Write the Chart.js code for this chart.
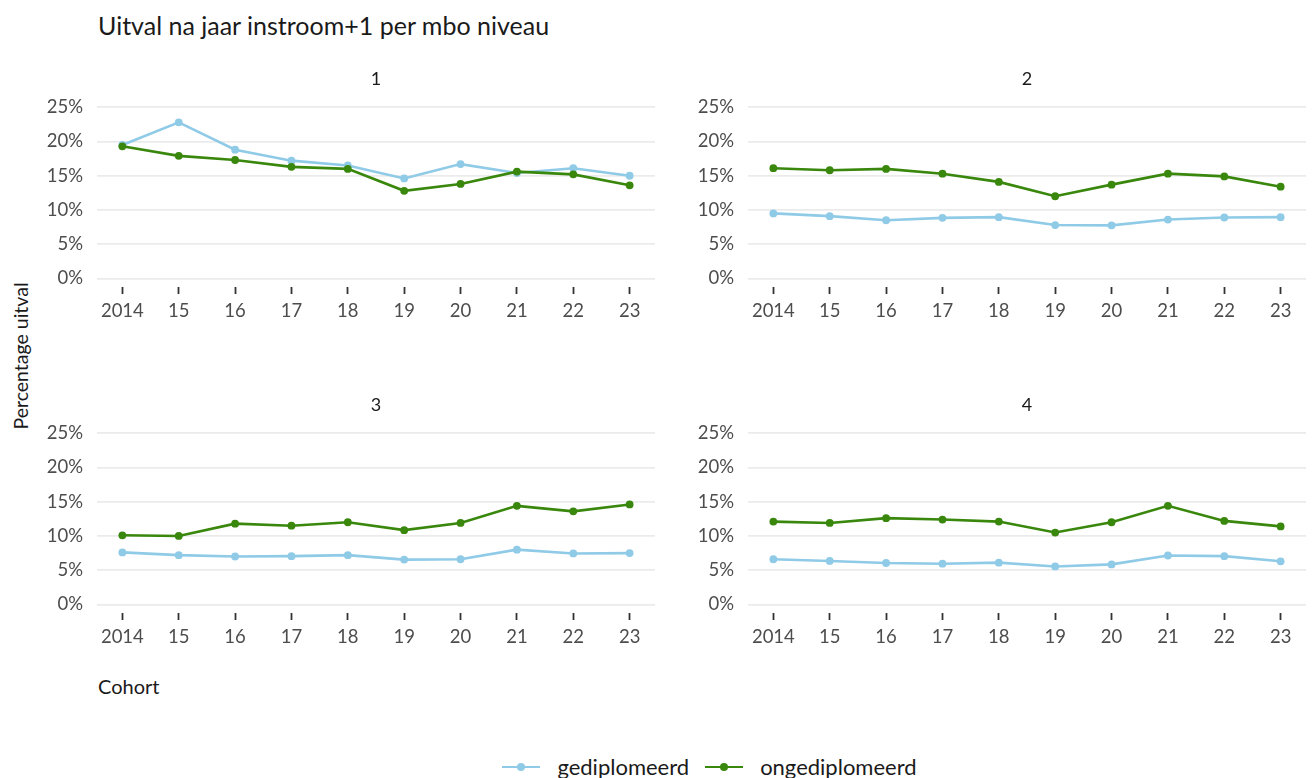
<!DOCTYPE html>
<html>
<head>
<meta charset="utf-8">
<script src="https://cdn.jsdelivr.net/npm/chart.js@4"></script>
<style>
  body { margin: 0; background: #fff; font-family: Lato, sans-serif; }
  #wrap { position: relative; width: 1315px; height: 778px; overflow: hidden; }
  canvas { position: absolute; }
  .txt { position: absolute; color: #1a1a1a; white-space: nowrap; }
  #title { left: 98px; top: 10px; font-size: 25px; line-height: 30px; }
  #ytitle { left: 20px; top: 356px; font-size: 19.5px; line-height: 23px;
            transform: translate(-50%, -50%) rotate(-90deg); }
  #xtitle { left: 98px; top: 674px; font-size: 20px; line-height: 24px; }
  #legend { position: absolute; left: 52px; width: 1315px; top: 753px; display: flex;
            justify-content: center; align-items: center; font-size: 22px; color: #1a1a1a; }
  .item { display: flex; align-items: center; margin: 0 8px; }
  .sym { position: relative; width: 38px; height: 24px; margin-right: 17px; }
  .sym .ln { position: absolute; left: 0; right: 0; top: 11px; height: 2.5px; }
  .sym .pt { position: absolute; left: 15px; top: 8px; width: 8px; height: 8px; border-radius: 50%; }
</style>
</head>
<body>
<div id="wrap">
  <div id="title" class="txt">Uitval na jaar instroom+1 per mbo niveau</div>
  <div id="ytitle" class="txt">Percentage uitval</div>
  <div id="xtitle" class="txt">Cohort</div>
  <canvas id="p1" width="625" height="268" style="left:40px;top:62px"></canvas>
  <canvas id="p2" width="625" height="268" style="left:691px;top:62px"></canvas>
  <canvas id="p3" width="625" height="268" style="left:40px;top:388px"></canvas>
  <canvas id="p4" width="625" height="268" style="left:691px;top:388px"></canvas>
  <div id="legend"></div>
</div>
<script>
// Data
const years = [2014, 2015, 2016, 2017, 2018, 2019, 2020, 2021, 2022, 2023];
const xLabels = ['2014', '15', '16', '17', '18', '19', '20', '21', '22', '23'];
const yTicks = [0, 5, 10, 15, 20, 25];
const yLabels = ['0%', '5%', '10%', '15%', '20%', '25%'];
const levels = ['1', '2', '3', '4'];
const seriesNames = ['gediplomeerd', 'ongediplomeerd'];
const seriesColors = ['#8fcae7', '#39870c'];

const gediplomeerd1 = [19.5, 22.8, 18.8, 17.2, 16.5, 14.6, 16.7, 15.4, 16.1, 15.0];
const ongediplomeerd1 = [19.3, 17.9, 17.3, 16.3, 16.0, 12.8, 13.8, 15.6, 15.2, 13.6];
const gediplomeerd2 = [9.5, 9.1, 8.5, 8.85, 8.95, 7.8, 7.75, 8.6, 8.9, 8.95];
const ongediplomeerd2 = [16.1, 15.8, 16.0, 15.3, 14.1, 12.0, 13.7, 15.3, 14.9, 13.4];
const gediplomeerd3 = [7.6, 7.2, 7.0, 7.05, 7.2, 6.55, 6.6, 8.0, 7.45, 7.5];
const ongediplomeerd3 = [10.1, 10.0, 11.8, 11.5, 12.0, 10.85, 11.9, 14.4, 13.6, 14.6];
const gediplomeerd4 = [6.6, 6.35, 6.05, 5.95, 6.1, 5.55, 5.85, 7.15, 7.05, 6.3];
const ongediplomeerd4 = [12.1, 11.9, 12.6, 12.4, 12.1, 10.5, 12.0, 14.4, 12.2, 11.4];

const panels = [
    [gediplomeerd1, ongediplomeerd1],
    [gediplomeerd2, ongediplomeerd2],
    [gediplomeerd3, ongediplomeerd3],
    [gediplomeerd4, ongediplomeerd4]
];

const tickFont = { family: 'Lato, sans-serif', size: 18.5 };

function makePanel(id, level, series) {
    const ctx = document.getElementById(id).getContext('2d');
    new Chart(ctx, {
        type: 'line',
        data: {
            datasets: series.map((vals, i) => ({
                label: seriesNames[i],
                data: vals.map((v, j) => ({ x: years[j], y: v })),
                borderColor: seriesColors[i],
                backgroundColor: seriesColors[i],
                borderWidth: 2.6,
                pointRadius: 3.9,
                pointBorderWidth: 0,
                order: i === 1 ? 0 : 1,
                tension: 0
            }))
        },
        options: {
            responsive: false,
            animation: false,
            layout: { padding: { top: 0, right: 10, bottom: 0, left: 0 } },
            plugins: {
                legend: { display: false },
                tooltip: { enabled: false },
                title: {
                    display: true,
                    text: level,
                    fullSize: false,
                    color: '#1a1a1a',
                    font: { family: 'Lato, sans-serif', size: 18, weight: 'normal', lineHeight: 1.2 },
                    padding: { top: 6.5, bottom: 8.6 }
                }
            },
            scales: {
                x: {
                    type: 'linear',
                    min: years[0] - 0.45,
                    max: years[years.length - 1] + 0.45,
                    afterBuildTicks: s => { s.ticks = years.map(v => ({ value: v })); },
                    afterFit: s => { s.height = 43; },
                    border: { display: false },
                    grid: {
                        drawOnChartArea: false,
                        drawTicks: true,
                        tickLength: 7,
                        tickColor: '#333333',
                        tickWidth: 1.8
                    },
                    ticks: {
                        autoSkip: false,
                        maxRotation: 0,
                        padding: 6,
                        color: '#4d4d4d',
                        font: tickFont,
                        callback: (v, i) => xLabels[i]
                    }
                },
                y: {
                    min: -1.25,
                    max: 26.25,
                    afterBuildTicks: s => { s.ticks = yTicks.map(v => ({ value: v })); },
                    afterFit: s => { s.width = 57; },
                    border: { display: false },
                    grid: { color: '#ebebeb', lineWidth: 1.7, drawTicks: false },
                    ticks: {
                        padding: 14,
                        color: '#4d4d4d',
                        font: tickFont,
                        callback: (v, i) => yLabels[i]
                    }
                }
            }
        }
    });
}

panels.forEach((series, k) => makePanel('p' + (k + 1), levels[k], series));

// Legend
const legend = document.getElementById('legend');
seriesNames.forEach((name, i) => {
    const item = document.createElement('div');
    item.className = 'item';
    item.innerHTML = '<div class="sym"><div class="ln" style="background:' + seriesColors[i] +
        '"></div><div class="pt" style="background:' + seriesColors[i] + '"></div></div><span>' + name + '</span>';
    legend.appendChild(item);
});
</script>
</body>
</html>
